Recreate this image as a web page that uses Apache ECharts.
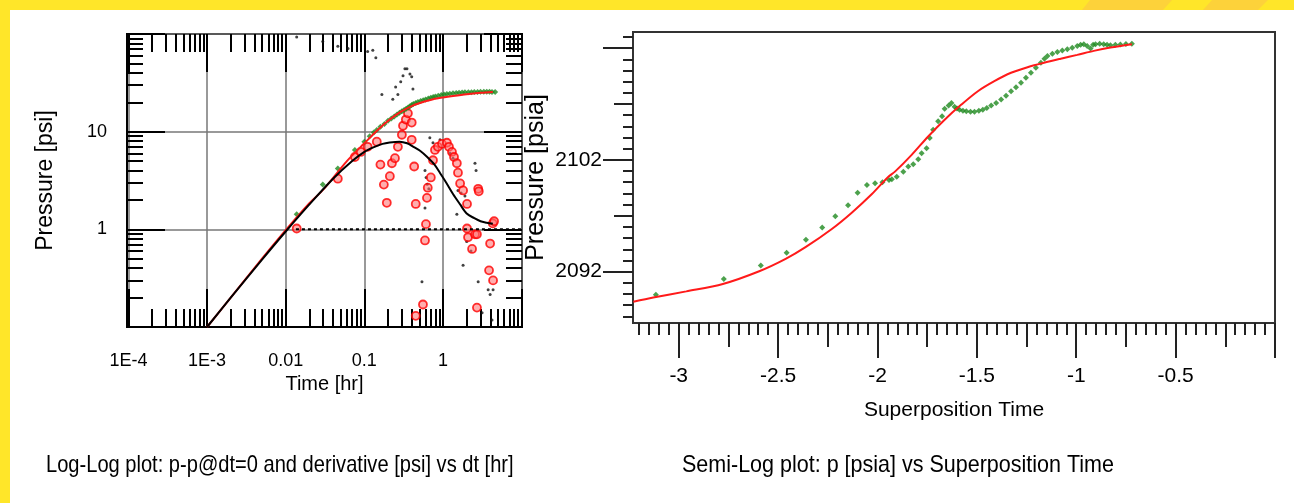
<!DOCTYPE html>
<html>
<head>
<meta charset="utf-8">
<script src="https://cdn.jsdelivr.net/npm/echarts/dist/echarts.min.js"></script>
<style>
  html, body { margin: 0; padding: 0; background: #fff; }
  #chart { width: 1294px; height: 503px; }
</style>
</head>
<body>
<div id="chart"></div>
<script>
// ---- log-log plot (left) ----
var logMantissas = [2, 3, 4, 5, 6, 7, 8, 9]
var xLogDecades = [1e-4, 1e-3, 1e-2, 1e-1, 1]
var yLogDecades = [0.1, 1, 10]
var xLogMajors = [1e-4, 1e-3, 0.01, 0.1, 1, 10]
var yLogMajors = [0.1, 1, 10, 100]
var xLogLabelValues = [1e-4, 1e-3, 0.01, 0.1, 1]
var xLogLabels = ['1E-4', '1E-3', '0.01', '0.1', '1']
var yLogLabelValues = [1, 10]
var yLogLabels = ['1', '10']

// pressure change data [hr, psi]
var deltaP = [[0.0138,1.43],[0.0296,2.87],[0.046,4.2],[0.0758,6.5],[0.1,7.9],[0.117,9.0],[0.132,9.8],[0.144,10.4],[0.16,11.2],[0.18,12.0],[0.2,12.9],[0.22,13.6],[0.24,14.3],[0.26,15.0],[0.28,15.6],[0.3,16.2],[0.32,16.7],[0.34,17.2],[0.36,17.7],[0.38,18.2],[0.4,18.7],[0.42,19.2],[0.45,19.7],[0.48,20.1],[0.52,20.6],[0.56,21.0],[0.6,21.4],[0.65,21.8],[0.7,22.2],[0.75,22.6],[0.8,22.9],[0.87,23.3],[0.95,23.7],[1.03,24.0],[1.12,24.3],[1.22,24.5],[1.34,24.7],[1.47,24.9],[1.6,25.1],[1.75,25.2],[1.9,25.3],[2.1,25.4],[2.3,25.4],[2.5,25.5],[2.75,25.5],[3.0,25.6],[3.3,25.6],[3.6,25.6],[3.9,25.6],[4.2,25.5],[4.6,25.5]]
// derivative data (red circles)
var derivative = [[0.0138,1.02],[0.046,3.3],[0.0758,5.5],[0.09,6.2],[0.11,7.0],[0.144,7.9],[0.16,4.6],[0.177,2.87],[0.193,1.87],[0.211,3.5],[0.224,4.75],[0.245,5.35],[0.267,7.0],[0.3,9.3],[0.31,11.5],[0.337,13.3],[0.358,15.4],[0.4,12.4],[0.4,8.25],[0.43,4.4],[0.45,1.82],[0.45,0.13],[0.556,0.17],[0.59,0.77],[0.607,1.13],[0.625,2.1],[0.64,2.67],[0.7,3.4],[0.746,5.1],[0.79,6.5],[0.86,7.0],[0.97,7.5],[1.12,7.7],[1.19,7.0],[1.3,6.2],[1.38,5.5],[1.5,4.75],[1.55,3.8],[1.65,2.95],[1.8,2.5],[2.02,1.82],[2.02,1.02],[2.08,0.83],[2.34,0.63],[2.55,0.89],[2.7,0.89],[2.8,2.6],[2.85,2.45],[2.7,0.158],[3.97,0.715],[3.85,0.38],[4.33,0.3],[4.3,1.15],[4.46,1.21],[3.4,0.098]]
// second derivative set (small black dots)
var derivativeRaw = [[0.0138,93],[0.0296,84],[0.046,75],[0.062,71],[0.11,66],[0.128,68],[0.14,57],[0.167,24],[0.23,21.5],[0.25,28.7],[0.267,24],[0.29,32.4],[0.31,37.3],[0.328,44],[0.348,44],[0.38,39],[0.4,36.5],[0.415,27.4],[0.68,8.66],[0.746,7.7],[0.916,8.25],[0.59,4.0],[0.61,3.4],[0.63,2.9],[0.66,2.6],[0.59,1.65],[0.54,0.29],[1.23,6.0],[1.34,5.35],[1.55,2.5],[1.7,2.35],[1.9,2.2],[1.5,1.43],[2.55,4.75],[2.63,4.0],[1.8,0.43],[2.0,0.75],[2.27,0.6],[2.8,0.29],[3.75,0.24],[3.97,0.215],[4.33,0.24],[3.14,0.14],[4.2,0.118]]
// model pressure change and model derivative
var modelDeltaP = [[0.001,0.1],[0.002,0.2],[0.005,0.5],[0.01,0.98],[0.02,1.85],[0.03,2.55],[0.06,5.0],[0.1,7.6],[0.15,10.5],[0.21,13.3],[0.3,16.2],[0.42,18.6],[0.6,20.5],[0.75,21.5],[1.0,22.4],[1.34,23.2],[2.0,24.2],[3.0,25.0],[4.3,25.5]]
var modelDerivative = [[0.001,0.1],[0.002,0.2],[0.005,0.49],[0.01,0.95],[0.02,1.8],[0.04,3.3],[0.07,5.0],[0.1,6.2],[0.13,6.9],[0.17,7.5],[0.21,7.75],[0.28,7.9],[0.35,7.6],[0.42,7.0],[0.52,6.3],[0.63,5.5],[0.78,4.6],[0.92,3.75],[1.1,3.0],[1.34,2.3],[1.65,1.8],[2.0,1.45],[2.5,1.3],[3.0,1.21],[3.6,1.17],[4.3,1.14]]
var stabilization = [[0.0135,1],[10,1]]

// ---- semi-log plot (right) ----
var semiXMajors = [-3, -2.5, -2, -1.5, -1, -0.5, 0]
var semiXLabels = [-3, -2.5, -2, -1.5, -1, -0.5]
var semiXMedium = [-2.75, -2.25, -1.75, -1.25, -0.75, -0.25]
var semiYMajors = [2092, 2102, 2112]
var semiYLabels = [2092, 2102]
var semiYMedium = [2097, 2107]

var semiPressure = [[-3.115,2089.93],[-2.773,2091.34],[-2.587,2092.54],[-2.457,2093.68],[-2.36,2094.85],[-2.278,2095.96],[-2.212,2096.95],[-2.148,2097.95],[-2.1,2099.05],[-2.053,2099.75],[-2.012,2099.9],[-1.975,2100.0],[-1.942,2100.2],[-1.928,2100.26],[-1.903,2100.5],[-1.87,2100.95],[-1.845,2101.4],[-1.82,2101.6],[-1.795,2102.06],[-1.778,2102.6],[-1.753,2103.05],[-1.737,2103.95],[-1.72,2104.7],[-1.695,2105.45],[-1.675,2105.9],[-1.662,2106.57],[-1.642,2106.86],[-1.628,2107.1],[-1.612,2106.75],[-1.6,2106.6],[-1.587,2106.5],[-1.57,2106.4],[-1.553,2106.35],[-1.532,2106.3],[-1.512,2106.3],[-1.49,2106.4],[-1.47,2106.5],[-1.45,2106.65],[-1.428,2106.86],[-1.403,2107.1],[-1.378,2107.4],[-1.353,2107.75],[-1.328,2108.15],[-1.303,2108.5],[-1.278,2108.9],[-1.253,2109.35],[-1.228,2109.8],[-1.203,2110.25],[-1.178,2110.7],[-1.16,2111.05],[-1.145,2111.3],[-1.12,2111.5],[-1.095,2111.67],[-1.07,2111.8],[-1.045,2111.9],[-1.02,2112.05],[-0.995,2112.2],[-0.978,2112.3],[-0.962,2112.36],[-0.945,2112.2],[-0.928,2111.97],[-0.915,2112.3],[-0.903,2112.36],[-0.882,2112.4],[-0.862,2112.36],[-0.845,2112.3],[-0.828,2112.27],[-0.803,2112.3],[-0.778,2112.33],[-0.75,2112.38],[-0.72,2112.4]]
var semiModel = [[-3.228,2089.3],[-3.128,2089.68],[-2.962,2090.23],[-2.778,2090.89],[-2.595,2092.03],[-2.462,2093.14],[-2.362,2094.19],[-2.228,2095.84],[-2.128,2097.3],[-2.028,2098.95],[-1.945,2100.5],[-1.912,2100.95],[-1.828,2102.45],[-1.745,2104.1],[-1.662,2105.6],[-1.578,2106.95],[-1.495,2108.15],[-1.412,2109.05],[-1.328,2109.8],[-1.245,2110.3],[-1.162,2110.7],[-1.078,2111.06],[-0.995,2111.4],[-0.912,2111.76],[-0.828,2112.06],[-0.72,2112.36]]

var xLogMinors = []
xLogDecades.forEach(function (d) { logMantissas.forEach(function (m) { xLogMinors.push(+(m * d).toPrecision(3)) }) })
var yLogMinors = []
yLogDecades.forEach(function (d) { logMantissas.forEach(function (m) { yLogMinors.push(+(m * d).toPrecision(3)) }) })
var semiXMinor = []
for (var i = -64; i <= 0; i++) semiXMinor.push(+(i * 0.05).toFixed(2))
var semiYMinor = []
for (var p = 2088; p <= 2113; p++) semiYMinor.push(p)

var FONT = '"Liberation Sans", Arial, sans-serif'
var hide = { show: false }

function pick(values, labels) {
    return function (v) {
        for (var k = 0; k < values.length; k++) {
            if (Math.abs(values[k] - v) <= Math.abs(values[k]) * 1e-6 + 1e-9) return labels[k]
        }
        return ''
    }
}

// one axis per tick size, all stacked on the same edge
function logAxis(dim, pos, ticks, len, extra) {
    var a = {
        type: 'log', logBase: 10, gridIndex: 0, position: pos,
        min: dim === 'x' ? 9.6e-5 : 0.1,
        max: dim === 'x' ? 10.1 : 100,
        axisLine: { show: false, onZero: false },
        axisTick: { show: true, inside: true, length: len, customValues: ticks, lineStyle: { color: '#000', width: 2 } },
        axisLabel: hide,
        splitLine: hide
    }
    return Object.assign(a, extra || {})
}
function semiAxis(dim, ticks, len, extra) {
    var a = {
        type: 'value', gridIndex: 1, position: dim === 'x' ? 'bottom' : 'left',
        min: dim === 'x' ? -3.23 : 2087.4,
        max: dim === 'x' ? 0 : 2113.45,
        axisLine: { show: false, onZero: false },
        axisTick: { show: true, inside: false, length: len, customValues: ticks, lineStyle: { color: '#222', width: 2 } },
        axisLabel: hide,
        splitLine: hide
    }
    return Object.assign(a, extra || {})
}

var myChart = echarts.init(document.getElementById('chart'))
myChart.setOption({
    animation: false,
    backgroundColor: '#fff',
    textStyle: { fontFamily: FONT, color: '#000' },
    grid: [
        { left: 127, top: 34, width: 395, height: 293, show: true, borderColor: '#000', borderWidth: 2, backgroundColor: 'transparent' },
        { left: 633, top: 32, width: 642, height: 291, show: true, borderColor: '#333', borderWidth: 2, backgroundColor: 'transparent' }
    ],
    xAxis: [
        logAxis('x', 'bottom', xLogMajors, 38, {
            axisLine: { show: true, onZero: false, lineStyle: { color: '#000', width: 2 } },
            axisLabel: { show: true, customValues: xLogLabelValues, formatter: pick(xLogLabelValues, xLogLabels), fontSize: 18, margin: 25, color: '#000', fontFamily: FONT },
            splitLine: { show: true, lineStyle: { color: '#777', width: 1.5 } },
            name: 'Time [hr]', nameLocation: 'middle', nameGap: 45,
            nameTextStyle: { fontSize: 20, color: '#000', fontFamily: FONT }
        }),
        logAxis('x', 'top', xLogMajors, 38),
        logAxis('x', 'bottom', xLogMinors, 18),
        logAxis('x', 'top', xLogMinors, 18),
        semiAxis('x', semiXMajors, 35, {
            axisLine: { show: true, onZero: false, lineStyle: { color: '#333', width: 2 } },
            axisLabel: { show: true, customValues: semiXLabels, fontSize: 21, margin: 43, color: '#000', fontFamily: FONT },
            name: 'Superposition Time', nameLocation: 'middle', nameGap: 77,
            nameTextStyle: { fontSize: 21, color: '#000', fontFamily: FONT }
        }),
        semiAxis('x', semiXMedium, 24),
        semiAxis('x', semiXMinor, 12)
    ],
    yAxis: [
        logAxis('y', 'left', yLogMajors, 38, {
            axisLine: { show: true, onZero: false, lineStyle: { color: '#000', width: 2 } },
            axisLabel: { show: true, customValues: yLogLabelValues, formatter: pick(yLogLabelValues, yLogLabels), fontSize: 18, margin: 20, color: '#000', fontFamily: FONT },
            splitLine: { show: true, lineStyle: { color: '#777', width: 1.5 } },
            name: 'Pressure [psi]', nameLocation: 'middle', nameGap: 70,
            nameTextStyle: { fontSize: 23, color: '#000', fontFamily: FONT }
        }),
        logAxis('y', 'right', yLogMajors, 38),
        logAxis('y', 'left', yLogMinors, 16),
        logAxis('y', 'right', yLogMinors, 16),
        semiAxis('y', semiYMajors, 30, {
            axisLine: { show: true, onZero: false, lineStyle: { color: '#333', width: 2 } },
            axisLabel: { show: true, customValues: semiYLabels, formatter: function (v) { return String(v) }, fontSize: 21, margin: 31, color: '#000', fontFamily: FONT },
            name: 'Pressure [psia]', nameLocation: 'middle', nameGap: 84,
            nameTextStyle: { fontSize: 25, color: '#000', fontFamily: FONT }
        }),
        semiAxis('y', semiYMedium, 19),
        semiAxis('y', semiYMinor, 10)
    ],
    graphic: [
        { type: 'rect', shape: { x: 0, y: 0, width: 1294, height: 10 }, style: { fill: '#ffe629' }, silent: true },
        { type: 'rect', shape: { x: 0, y: 0, width: 10, height: 503 }, style: { fill: '#ffe629' }, silent: true },
        { type: 'polygon', shape: { points: [[1090, 0], [1172, 0], [1163, 10], [1082, 10]] }, style: { fill: '#fdd23a' }, silent: true },
        { type: 'polygon', shape: { points: [[1212, 0], [1268, 0], [1258, 10], [1203, 10]] }, style: { fill: '#fdd23a' }, silent: true },
        { type: 'text', x: 46, y: 453, scaleX: 0.837, style: { text: 'Log-Log plot: p-p@dt=0 and derivative [psi] vs dt [hr]', font: '24px ' + FONT, fill: '#000' } },
        { type: 'text', x: 682, y: 453, scaleX: 0.896, style: { text: 'Semi-Log plot: p [psia] vs Superposition Time', font: '24px ' + FONT, fill: '#000' } }
    ],
    series: [
        {
            type: 'line', xAxisIndex: 0, yAxisIndex: 0, data: stabilization, symbol: 'none',
            lineStyle: { color: '#000', width: 2, type: [3, 3] }
        },
        {
            type: 'scatter', xAxisIndex: 0, yAxisIndex: 0, data: derivativeRaw, symbol: 'circle', symbolSize: 3,
            itemStyle: { color: '#111' }
        },
        {
            type: 'scatter', xAxisIndex: 0, yAxisIndex: 0, data: derivative, symbol: 'circle', symbolSize: 8,
            itemStyle: { color: 'rgba(255,110,110,0.7)', borderColor: '#ff0000', borderWidth: 1.8 }
        },
        {
            type: 'scatter', xAxisIndex: 0, yAxisIndex: 0, data: deltaP, symbol: 'diamond', symbolSize: 6,
            itemStyle: { color: '#1f8a1f' }
        },
        {
            type: 'line', xAxisIndex: 0, yAxisIndex: 0, data: modelDeltaP, symbol: 'none', smooth: 0.3,
            lineStyle: { color: '#ff1a1a', width: 2 }
        },
        {
            type: 'line', xAxisIndex: 0, yAxisIndex: 0, data: modelDerivative, symbol: 'none', smooth: 0.3,
            lineStyle: { color: '#000', width: 2 }
        },
        {
            type: 'scatter', xAxisIndex: 4, yAxisIndex: 4, data: semiPressure, symbol: 'diamond', symbolSize: 6,
            itemStyle: { color: '#1f8a1f' }
        },
        {
            type: 'line', xAxisIndex: 4, yAxisIndex: 4, data: semiModel, symbol: 'none', smooth: 0.3,
            lineStyle: { color: '#ff1a1a', width: 2 }
        }
    ]
})
</script>
</body>
</html>
